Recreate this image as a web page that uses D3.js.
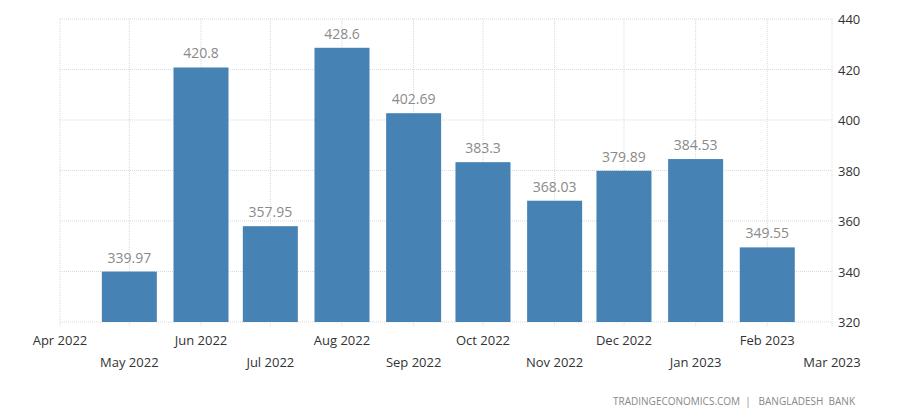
<!DOCTYPE html>
<html><head><meta charset="utf-8">
<script src="https://cdn.jsdelivr.net/npm/d3@7"></script>
<style>body{margin:0;background:#fff}svg{display:block}</style>
</head><body><svg id="c" width="913" height="418"></svg>
<script>
const months = ["2022-05","2022-06","2022-07","2022-08","2022-09","2022-10","2022-11","2022-12","2023-01","2023-02"];
const values = [339.97,420.8,357.95,428.6,402.69,383.3,368.03,379.89,384.53,349.55];
const valueLabels = ["339.97","420.8","357.95","428.6","402.69","383.3","368.03","379.89","384.53","349.55"];
const tickMonths = ["2022-04","2022-05","2022-06","2022-07","2022-08","2022-09","2022-10","2022-11","2022-12","2023-01","2023-02","2023-03"];
const yTicks = [320,340,360,380,400,420,440];

(function(){
const parse = d3.timeParse("%Y-%m");
const fmt = d3.timeFormat("%b %Y");
const svg = d3.select("#c");
const mL = 60, mR = 832, mT = 19, mB = 322;
const x = d3.scaleTime().domain([parse("2022-04"), parse("2023-03")]).range([mL, mR]);
const y = d3.scaleLinear().domain([320,440]).range([mB, mT]);
const font = "'Open Sans', 'Noto Sans', sans-serif";
const grid = "#d9d9d9";

svg.append("g").selectAll("line").data(yTicks).join("line")
  .attr("x1", mL).attr("x2", mR).attr("y1", d=>y(d)).attr("y2", d=>y(d))
  .attr("stroke", grid).attr("stroke-dasharray","1,1");
const tickDates = tickMonths.map(parse);
svg.append("g").selectAll("line").data(tickDates).join("line")
  .attr("x1", d=>x(d)).attr("x2", d=>x(d)).attr("y1", mT).attr("y2", mB+5)
  .attr("stroke", grid).attr("stroke-dasharray","1,1");

const bw = 55;
svg.append("g").selectAll("rect").data(values).join("rect")
  .attr("x", (d,i)=>x(parse(months[i]))-bw/2).attr("width", bw)
  .attr("y", d=>y(d)).attr("height", d=>mB-y(d)).attr("fill","#4682b4");

svg.append("g").selectAll("text").data(values).join("text")
  .attr("x", (d,i)=>x(parse(months[i]))).attr("y", d=>y(d)-9)
  .attr("text-anchor","middle").attr("font-family",font).attr("font-size",14)
  .attr("fill","#8a8a8a").text((d,i)=>valueLabels[i]);

svg.append("g").selectAll("text").data(tickDates).join("text")
  .attr("x", d=>x(d)).attr("y", (d,i)=> i%2===0 ? 345 : 367)
  .attr("text-anchor","middle").attr("font-family",font).attr("font-size",13)
  .attr("fill","#333").text(d=>fmt(d));

svg.append("g").selectAll("text").data(yTicks).join("text")
  .attr("x", 838).attr("y", d=>y(d)+5)
  .attr("font-family",font).attr("font-size",13).attr("fill","#333").text(d=>d);

svg.append("text").attr("x", 855).attr("y", 405).attr("text-anchor","end")
  .attr("font-family",font).attr("font-size",10).attr("fill","#888")
  .attr("xml:space","preserve")
  .text("TRADINGECONOMICS.COM  |   BANGLADESH  BANK");
})();
</script></body></html>
